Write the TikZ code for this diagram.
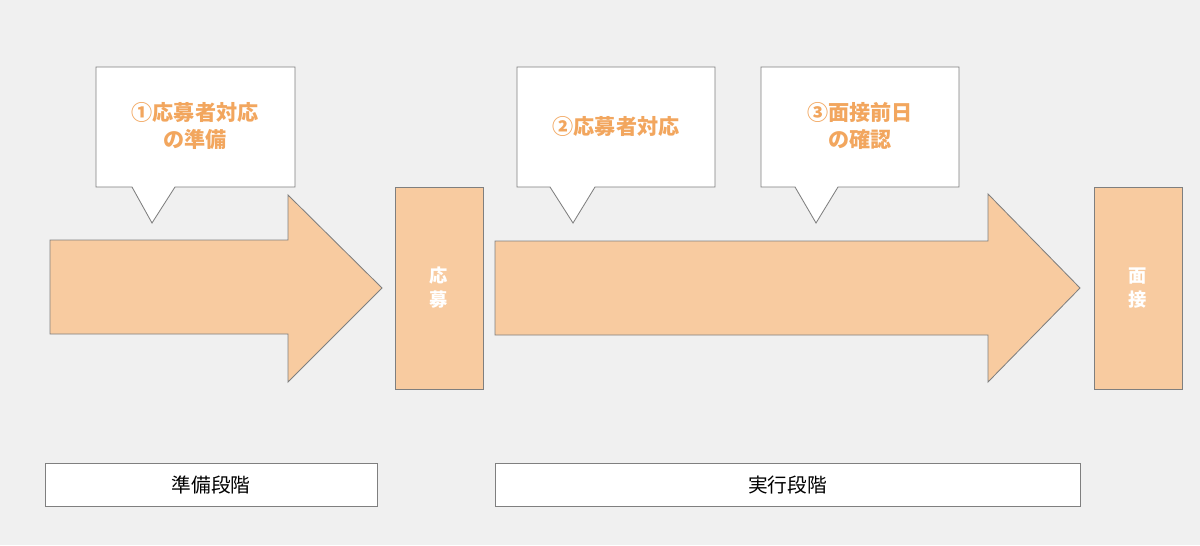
\documentclass[tikz,border=0pt]{standalone}
\usepackage{fontspec}
\newfontfamily\cjk{Noto Sans CJK JP}
\usetikzlibrary{positioning, calc}
\definecolor{BgGray}{HTML}{F0F0F0}
\definecolor{StepFill}{HTML}{F8CBA0}
\definecolor{StepText}{HTML}{F2A65E}
\definecolor{EdgeGray}{HTML}{7F7F7F}

\begin{document}
\begin{tikzpicture}[
    x=0.025cm, y=-0.025cm,
    font=\cjk,
    % styles
    flow/.style={fill=StepFill, draw=EdgeGray, line width=0.6pt},
    gate/.style={flow, minimum width=2.2cm, minimum height=5.05cm, inner sep=0pt,
        text=white, font=\cjk\bfseries\fontsize{13}{17}\selectfont, align=center},
    bubble/.style={fill=white, draw=EdgeGray, line width=0.6pt},
    bubbletext/.style={text=StepText, font=\cjk\bfseries\fontsize{15}{19}\selectfont, align=center},
    phase/.style={fill=white, draw=EdgeGray, line width=0.6pt, minimum height=1.075cm,
        inner sep=0pt, font=\cjk\fontsize{14}{17}\selectfont}
]
    \fill[BgGray] (0,0) rectangle (1200,545);

    % big arrows
    \draw[flow] (50,240) -- (288,240) -- (288,195) -- (382,288) -- (288,382)
        -- (288,334) -- (50,334) -- cycle;
    \draw[flow] (495,241) -- (988,241) -- (988,194) -- (1080,288) -- (988,382)
        -- (988,335) -- (495,335) -- cycle;

    % gates
    \node[gate] (apply) at (439,288) {応\\募};
    \node[gate] (interview) at (1138,288) {面\\接};

    % callouts
    \draw[bubble] (96,67) -- (295,67) -- (295,187) -- (175,187) -- (152,223)
        -- (132,187) -- (96,187) -- cycle;
    \node[bubbletext] (prep) at (195,126) {①応募者対応\\の準備};
    \draw[bubble] (517,67) -- (715,67) -- (715,187) -- (595,187) -- (573,223)
        -- (550,187) -- (517,187) -- cycle;
    \node[bubbletext] (handle) at (616,127) {②応募者対応};
    \draw[bubble] (761,67) -- (959,67) -- (959,187) -- (838,187) -- (816,223)
        -- (795,187) -- (761,187) -- cycle;
    \node[bubbletext] (check) at (860,126) {③面接前日\\の確認};

    % phases
    \node[phase, minimum width=8.3cm] (prepphase) at (211,485) {準備段階};
    \node[phase, minimum width=14.625cm] (runphase) at (787.5,485) {実行段階};
\end{tikzpicture}
\end{document}
